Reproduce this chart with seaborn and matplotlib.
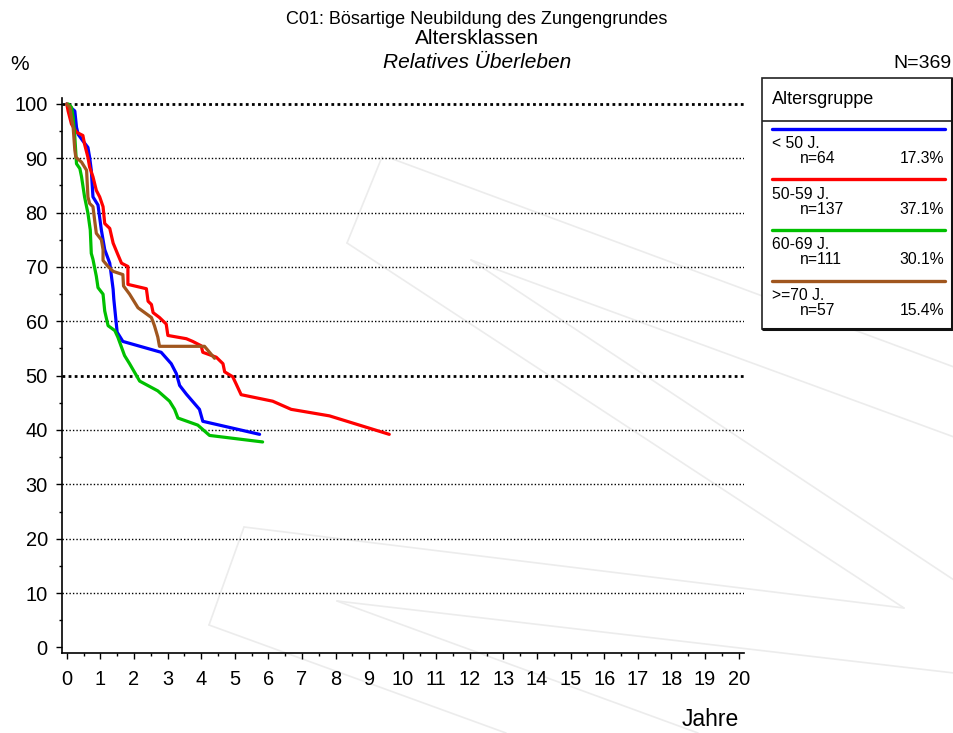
import numpy as np
import pandas as pd
import matplotlib
matplotlib.use("Agg")
import matplotlib.pyplot as plt
from matplotlib.patches import Rectangle
import seaborn as sns

# Daten
gruppen = ["< 50 J.", "50-59 J.", "60-69 J.", ">=70 J."]
n_faelle = [64, 137, 111, 57]
farben = ["#0000FF", "#FF0000", "#00C000", "#A0561E"]

jahre_u50 = [0, 0.24, 0.29, 0.34, 0.48, 0.63, 0.68, 0.73, 0.78, 0.93, 1.03, 1.13, 1.28,
             1.38, 1.40, 1.50, 1.67, 2.81, 3.11, 3.26, 3.36, 3.56, 3.95, 4.05, 5.74]
surv_u50 = [100, 98.7, 95.7, 94.4, 93.2, 92.0, 90.2, 87.8, 82.9, 81.4, 76.8, 73.2, 70.7,
            65.9, 64.1, 58.0, 56.3, 54.3, 52.2, 50.4, 48.2, 46.6, 43.8, 41.6, 39.2]

jahre_50 = [0, 0.04, 0.14, 0.29, 0.48, 0.53, 0.63, 0.68, 0.78, 0.88, 0.98, 1.08, 1.13, 1.28,
            1.38, 1.52, 1.63, 1.82, 1.82, 2.37, 2.42, 2.52, 2.57, 2.76, 2.96, 3.01, 3.56,
            3.75, 4.0, 4.05, 4.45, 4.65, 4.70, 4.94, 5.04, 5.19, 6.13, 6.68, 7.82, 9.6]
surv_50 = [100, 98.7, 96.3, 94.8, 94.2, 92.6, 90.2, 88.4, 86.6, 84.1, 82.9, 81.1, 78.0, 77.1,
           74.4, 72.3, 70.7, 70.1, 66.8, 66.0, 63.7, 63.1, 61.6, 60.7, 59.5, 57.4, 56.8,
           56.3, 55.5, 54.3, 53.4, 52.2, 50.7, 49.8, 48.5, 46.5, 45.3, 43.8, 42.6, 39.2]

jahre_60 = [0.05, 0.14, 0.19, 0.24, 0.29, 0.39, 0.44, 0.53, 0.63, 0.70, 0.73, 0.78, 0.88,
            0.93, 1.08, 1.13, 1.23, 1.43, 1.52, 1.72, 1.87, 2.17, 2.71, 3.06, 3.21, 3.31,
            3.90, 4.25, 5.83]
surv_60 = [100, 99.4, 97.5, 93.9, 89.0, 88.1, 86.6, 82.9, 79.9, 76.8, 72.5, 71.4, 68.3,
           66.2, 65.0, 61.9, 59.2, 58.3, 57.1, 53.7, 52.2, 49.0, 47.2, 45.3, 43.8, 42.2,
           40.9, 39.0, 37.8]

jahre_70 = [0, 0.09, 0.14, 0.19, 0.24, 0.27, 0.44, 0.53, 0.59, 0.63, 0.68, 0.78, 0.83, 0.88,
            1.03, 1.08, 1.08, 1.23, 1.38, 1.67, 1.69, 1.87, 2.12, 2.52, 2.61, 2.71, 2.76,
            4.10, 4.40]
surv_70 = [100, 99.4, 97.5, 95.7, 91.5, 90.2, 89.3, 88.4, 87.8, 82.9, 81.7, 81.1, 78.6, 76.2,
           75.0, 73.2, 71.2, 70.1, 69.2, 68.6, 66.5, 65.0, 62.5, 60.7, 59.2, 57.1, 55.4,
           55.4, 53.2]

kurven = [(jahre_u50, surv_u50), (jahre_50, surv_50), (jahre_60, surv_60), (jahre_70, surv_70)]
rows = []
for g, (xs, ys) in zip(gruppen, kurven):
    for x, y in zip(xs, ys):
        rows.append({"gruppe": g, "jahre": x, "ueberleben": y})
df = pd.DataFrame(rows)

sns.set_theme(style="white")
plt.rcParams["font.family"] = ["Liberation Sans", "DejaVu Sans"]
plt.rcParams["text.color"] = "black"
plt.rcParams["xtick.color"] = "black"
plt.rcParams["ytick.color"] = "black"

fig = plt.figure(figsize=(9.54, 7.33), dpi=100)

# Wasserzeichen im Hintergrund (Pixelkoordinaten)
bg = fig.add_axes([0, 0, 1, 1], zorder=0)
bg.set_xlim(0, 954)
bg.set_ylim(733, 0)
bg.axis("off")
wz = [((382, 157), (347, 243)), ((390, 158), (954, 367)), ((347, 243), (904, 608)),
      ((471, 260), (954, 437)), ((471, 260), (954, 580)), ((244, 527), (904, 608)),
      ((244, 527), (209, 625)), ((209, 625), (506, 733)), ((337, 601), (954, 673)),
      ((337, 601), (698, 733))]
for (x1, y1), (x2, y2) in wz:
    bg.plot([x1, x2], [y1, y2], color="#ececec", lw=1.2)

ax = fig.add_axes([0.0647, 0.1087, 0.7152, 0.7576], zorder=1)
ax.patch.set_alpha(0)

# Gitterlinien
for v in range(10, 101, 10):
    if v in (50, 100):
        ax.axhline(v, color="black", lw=2.0, ls=(0, (1, 1.2)), zorder=1)
    else:
        ax.axhline(v, color="black", lw=1.0, ls=(0, (1, 1.5)), zorder=1)

sns.lineplot(data=df, x="jahre", y="ueberleben", hue="gruppe",
             palette=dict(zip(gruppen, farben)), sort=False, estimator=None,
             lw=2.3, legend=False, ax=ax, zorder=3)

ax.set_xlim(-0.15, 20.16)
ax.set_ylim(-1.1, 101.1)
ax.set_xticks(range(0, 21))
ax.set_xticks(np.arange(0.5, 20, 1), minor=True)
ax.set_yticks(range(0, 101, 10))
ax.set_yticks(range(5, 100, 10), minor=True)
ax.tick_params(which="major", length=4, width=1, color="black", labelsize=14.4,
               labelcolor="black", bottom=True, left=True, direction="out")
ax.tick_params(which="minor", length=2.5, width=1, color="black", bottom=True, left=True)
ax.tick_params(axis="x", pad=8)
ax.tick_params(axis="y", pad=6)
ax.set_xlabel("")
ax.set_ylabel("")
for s in ("top", "right"):
    ax.spines[s].set_visible(False)
for s in ("left", "bottom"):
    ax.spines[s].set_color("black")
    ax.spines[s].set_linewidth(1.2)

# Titel
fig.text(0.5, 1 - 20 / 733, "C01: Bösartige Neubildung des Zungengrundes",
         ha="center", va="center", fontsize=13)
fig.text(0.5, 1 - 39 / 733, "Altersklassen", ha="center", va="center", fontsize=15)
fig.text(0.5, 1 - 63 / 733, "Relatives Überleben", ha="center", va="center",
         fontsize=15, style="italic")
fig.text(10 / 954, 1 - 64 / 733, "%", ha="left", va="center", fontsize=15)
fig.text(952 / 954, 1 - 64 / 733, "N=%d" % sum(n_faelle), ha="right", va="center", fontsize=14)
fig.text(739 / 954, 1 - 719 / 733, "Jahre", ha="right", va="center", fontsize=16.5)

# Legende
leg = fig.add_axes([762 / 954, 1 - 329 / 733, 190 / 954, 251 / 733], zorder=2)
leg.set_xlim(0, 190)
leg.set_ylim(251, 0)
leg.axis("off")
leg.add_patch(Rectangle((0, 0), 190, 251, facecolor="white", edgecolor="#222222",
                        lw=1.2, clip_on=False))
leg.plot([0, 190], [43, 43], color="#222222", lw=1.2)
leg.plot([190, 190, 1], [1, 251, 251], color="#111111", lw=2.2, clip_on=False)
leg.text(10, 21, "Altersgruppe", ha="left", va="center", fontsize=13)
for k, (g, n, c) in enumerate(zip(gruppen, n_faelle, farben)):
    y0 = 50.5 + k * 50.7
    leg.plot([10, 183], [y0, y0], color=c, lw=2.4)
    leg.text(10, y0 + 15, g, ha="left", va="center", fontsize=11.3)
    leg.text(38, y0 + 30, "n=%d" % n, ha="left", va="center", fontsize=11.3)
    leg.text(182, y0 + 30, "%.1f%%" % (100 * n / sum(n_faelle)), ha="right",
             va="center", fontsize=11.3)

fig.savefig("out.png", dpi=100)
